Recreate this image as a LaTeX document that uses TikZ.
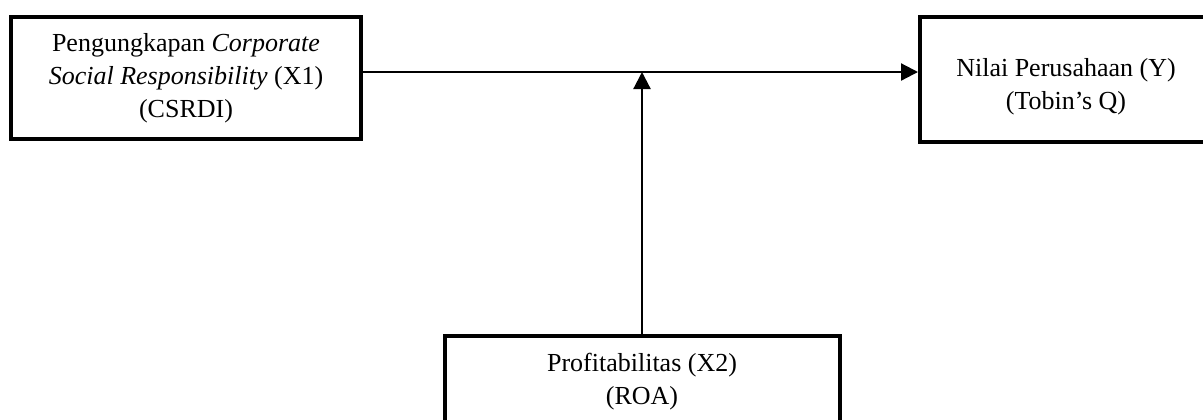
\documentclass[tikz,border=0pt]{standalone}
\usepackage{fontspec}
\setmainfont{Liberation Serif}
\usetikzlibrary{arrows.meta}
\begin{document}
\begin{tikzpicture}[x=0.5pt,y=-0.5pt,
  box/.style={draw, line width=2pt, align=center, inner sep=0pt,
    font=\fontsize{13}{16.5}\selectfont},
  conn/.style={line width=1.1pt, -{Triangle[length=8.5pt,width=8.5pt]}}]
\useasboundingbox (0,0) rectangle (1203,419);
\clip (0,0) rectangle (1203,419);
\node[box, minimum width=175pt, minimum height=61pt] (csr) at (186,78)
  {Pengungkapan \textit{Corporate}\\ \textit{Social Responsibility} (X1)\\ (CSRDI)};
\node[box, minimum width=146pt, minimum height=62.5pt, text depth=0pt] (nilai) at (1066,79)
  {\raisebox{3.5pt}{\parbox{140pt}{\centering Nilai Perusahaan (Y)\\ (Tobin’s Q)}}};
\node[box, minimum width=197.5pt, minimum height=46pt] (prof) at (642,382)
  {Profitabilitas (X2)\\ (ROA)};
\coordinate (hy) at (0,72);
\coordinate (join) at (prof.north |- hy);
\draw[conn] (csr.east |- hy) -- (nilai.west |- hy);
\draw[conn] (prof.north) -- (join);
\end{tikzpicture}
\end{document}
